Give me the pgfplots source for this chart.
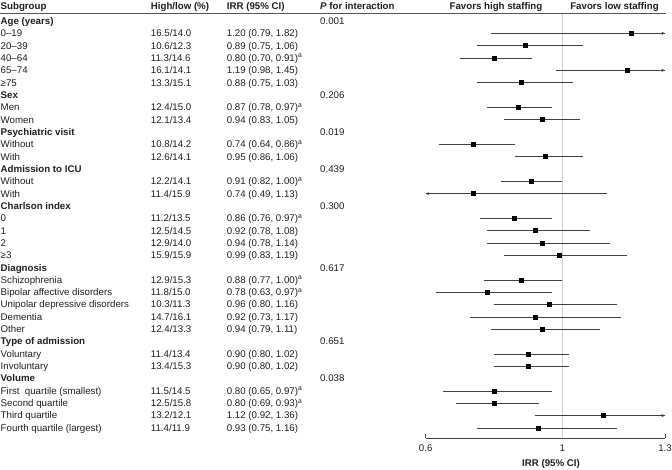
\documentclass[border=0pt]{standalone}
\usepackage{pgfplots}
\pgfplotsset{compat=1.18}
\usepackage{pgfplotstable}
\usepackage{fontspec}
\setmainfont{Liberation Sans}
\usetikzlibrary{arrows.meta}
\definecolor{txt}{HTML}{1E1E1E}
\definecolor{cigray}{HTML}{404040}
\definecolor{refgray}{HTML}{CFCFCF}
\definecolor{rulegray}{HTML}{555555}

\pgfplotstableread{
row irr lo hi
1 1.20 0.79 1.82
2 0.89 0.75 1.06
3 0.80 0.70 0.91
4 1.19 0.98 1.45
5 0.88 0.75 1.03
7 0.87 0.78 0.97
8 0.94 0.83 1.05
10 0.74 0.64 0.86
11 0.95 0.86 1.06
13 0.91 0.82 1.00
14 0.74 0.49 1.13
16 0.86 0.76 0.97
17 0.92 0.78 1.08
18 0.94 0.78 1.14
19 0.99 0.83 1.19
21 0.88 0.77 1.00
22 0.78 0.63 0.97
23 0.96 0.80 1.16
24 0.92 0.73 1.17
25 0.94 0.79 1.11
27 0.90 0.80 1.02
28 0.90 0.80 1.02
30 0.80 0.65 0.97
31 0.80 0.69 0.93
32 1.12 0.92 1.36
33 0.93 0.75 1.16
}\forest

\newcommand{\ry}[1]{{-(21+12.33*#1)-3.4}}
\newcommand{\G}[3]{%
  \node[anchor=base west] at (0.5,\ry{#1}) {\textbf{#2}};
  \node[anchor=base west] at (320,\ry{#1}) {#3};}
\newcommand{\R}[4]{%
  \node[anchor=base west] at (0.5,\ry{#1}) {#2};
  \node[anchor=base west] at (150.7,\ry{#1}) {#3};
  \node[anchor=base west] at (226.7,\ry{#1}) {#4};}
\newcommand{\sa}{\textsuperscript{a}}

\begin{document}
\begin{tikzpicture}[font=\fontsize{9.7}{11.6}\selectfont, text=txt]
\useasboundingbox (0,0) rectangle (672pt,-469pt);
\begin{axis}[
  at={(425.7pt,-438pt)}, anchor=south west,
  scale only axis, width=239.3pt, height=424.7pt,
  xmin=0.6, xmax=1.3, ymin=-33.82, ymax=0.624,
  enlargelimits=false, clip=false,
  axis x line=bottom, axis y line=none,
  axis line style={-, draw=cigray, line width=0.8pt},
  xtick={0.6,1,1.3}, xticklabels={0.6,1,1.3},
  tick align=inside, major tick length=4pt,
  tick style={draw=cigray, line width=0.8pt},
  ytick=\empty,
  /pgf/number format/assume math mode=true,
  xticklabel style={anchor=base, yshift=-13.8pt, text=txt, font=\fontsize{9.7}{11.6}\selectfont},
]
\addplot[refgray, line width=0.6pt, forget plot] coordinates {(1,0.624) (1,-33.82)};
\addplot[only marks, mark=square*, mark size=2pt, mark options={fill=black, draw=black},
  error bars/.cd, x dir=both, x explicit, error mark=none,
  error bar style={line width=0.7pt, draw=cigray}]
  table[x=irr, y expr=-\thisrow{row},
        x error plus expr={min(\thisrow{hi},1.3)-\thisrow{irr}},
        x error minus expr={\thisrow{irr}-max(\thisrow{lo},0.6)}] {\forest};
\addplot[cigray, line width=0.7pt, -{Stealth[length=3.5pt,width=3pt]}] coordinates {(1.25,-1) (1.3,-1)};
\addplot[cigray, line width=0.7pt, -{Stealth[length=3.5pt,width=3pt]}] coordinates {(1.25,-4) (1.3,-4)};
\addplot[cigray, line width=0.7pt, -{Stealth[length=3.5pt,width=3pt]}] coordinates {(1.25,-32) (1.3,-32)};
\addplot[cigray, line width=0.7pt, -{Stealth[length=3.5pt,width=3pt]}] coordinates {(0.65,-14) (0.6,-14)};
\end{axis}
\begin{scope}[x=1pt, y=1pt, inner sep=0pt]
\draw[rulegray, line width=0.8pt] (0,-13.3) -- (666,-13.3);
\node[anchor=base west] at (0.5,-9.9) {\textbf{Subgroup}};
\node[anchor=base west] at (150.7,-9.9) {\textbf{High/low (\%)}};
\node[anchor=base west] at (226.7,-9.9) {\textbf{IRR (95\% CI)}};
\node[anchor=base west] at (320,-9.9) {\textbf{\textit{P} for interaction}};
\node[anchor=base] at (496,-9.9) {\textbf{Favors high staffing}};
\node[anchor=base] at (614.5,-9.9) {\textbf{Favors low staffing}};
\node[anchor=base] at (551,-466.1) {\textbf{IRR (95\% CI)}};
\G{0}{Age (years)}{0.001}
\R{1}{0–19}{16.5/14.0}{1.20 (0.79, 1.82)}
\R{2}{20–39}{10.6/12.3}{0.89 (0.75, 1.06)}
\R{3}{40–64}{11.3/14.6}{0.80 (0.70, 0.91)\sa}
\R{4}{65–74}{16.1/14.1}{1.19 (0.98, 1.45)}
\R{5}{≥75}{13.3/15.1}{0.88 (0.75, 1.03)}
\G{6}{Sex}{0.206}
\R{7}{Men}{12.4/15.0}{0.87 (0.78, 0.97)\sa}
\R{8}{Women}{12.1/13.4}{0.94 (0.83, 1.05)}
\G{9}{Psychiatric visit}{0.019}
\R{10}{Without}{10.8/14.2}{0.74 (0.64, 0.86)\sa}
\R{11}{With}{12.6/14.1}{0.95 (0.86, 1.06)}
\G{12}{Admission to ICU}{0.439}
\R{13}{Without}{12.2/14.1}{0.91 (0.82, 1.00)\sa}
\R{14}{With}{11.4/15.9}{0.74 (0.49, 1.13)}
\G{15}{Charlson index}{0.300}
\R{16}{0}{11.2/13.5}{0.86 (0.76, 0.97)\sa}
\R{17}{1}{12.5/14.5}{0.92 (0.78, 1.08)}
\R{18}{2}{12.9/14.0}{0.94 (0.78, 1.14)}
\R{19}{≥3}{15.9/15.9}{0.99 (0.83, 1.19)}
\G{20}{Diagnosis}{0.617}
\R{21}{Schizophrenia}{12.9/15.3}{0.88 (0.77, 1.00)\sa}
\R{22}{Bipolar affective disorders}{11.8/15.0}{0.78 (0.63, 0.97)\sa}
\R{23}{Unipolar depressive disorders}{10.3/11.3}{0.96 (0.80, 1.16)}
\R{24}{Dementia}{14.7/16.1}{0.92 (0.73, 1.17)}
\R{25}{Other}{12.4/13.3}{0.94 (0.79, 1.11)}
\G{26}{Type of admission}{0.651}
\R{27}{Voluntary}{11.4/13.4}{0.90 (0.80, 1.02)}
\R{28}{Involuntary}{13.4/15.3}{0.90 (0.80, 1.02)}
\G{29}{Volume}{0.038}
\R{30}{First\ \ quartile (smallest)}{11.5/14.5}{0.80 (0.65, 0.97)\sa}
\R{31}{Second quartile}{12.5/15.8}{0.80 (0.69, 0.93)\sa}
\R{32}{Third quartile}{13.2/12.1}{1.12 (0.92, 1.36)}
\R{33}{Fourth quartile (largest)}{11.4/11.9}{0.93 (0.75, 1.16)}
\end{scope}
\end{tikzpicture}
\end{document}
